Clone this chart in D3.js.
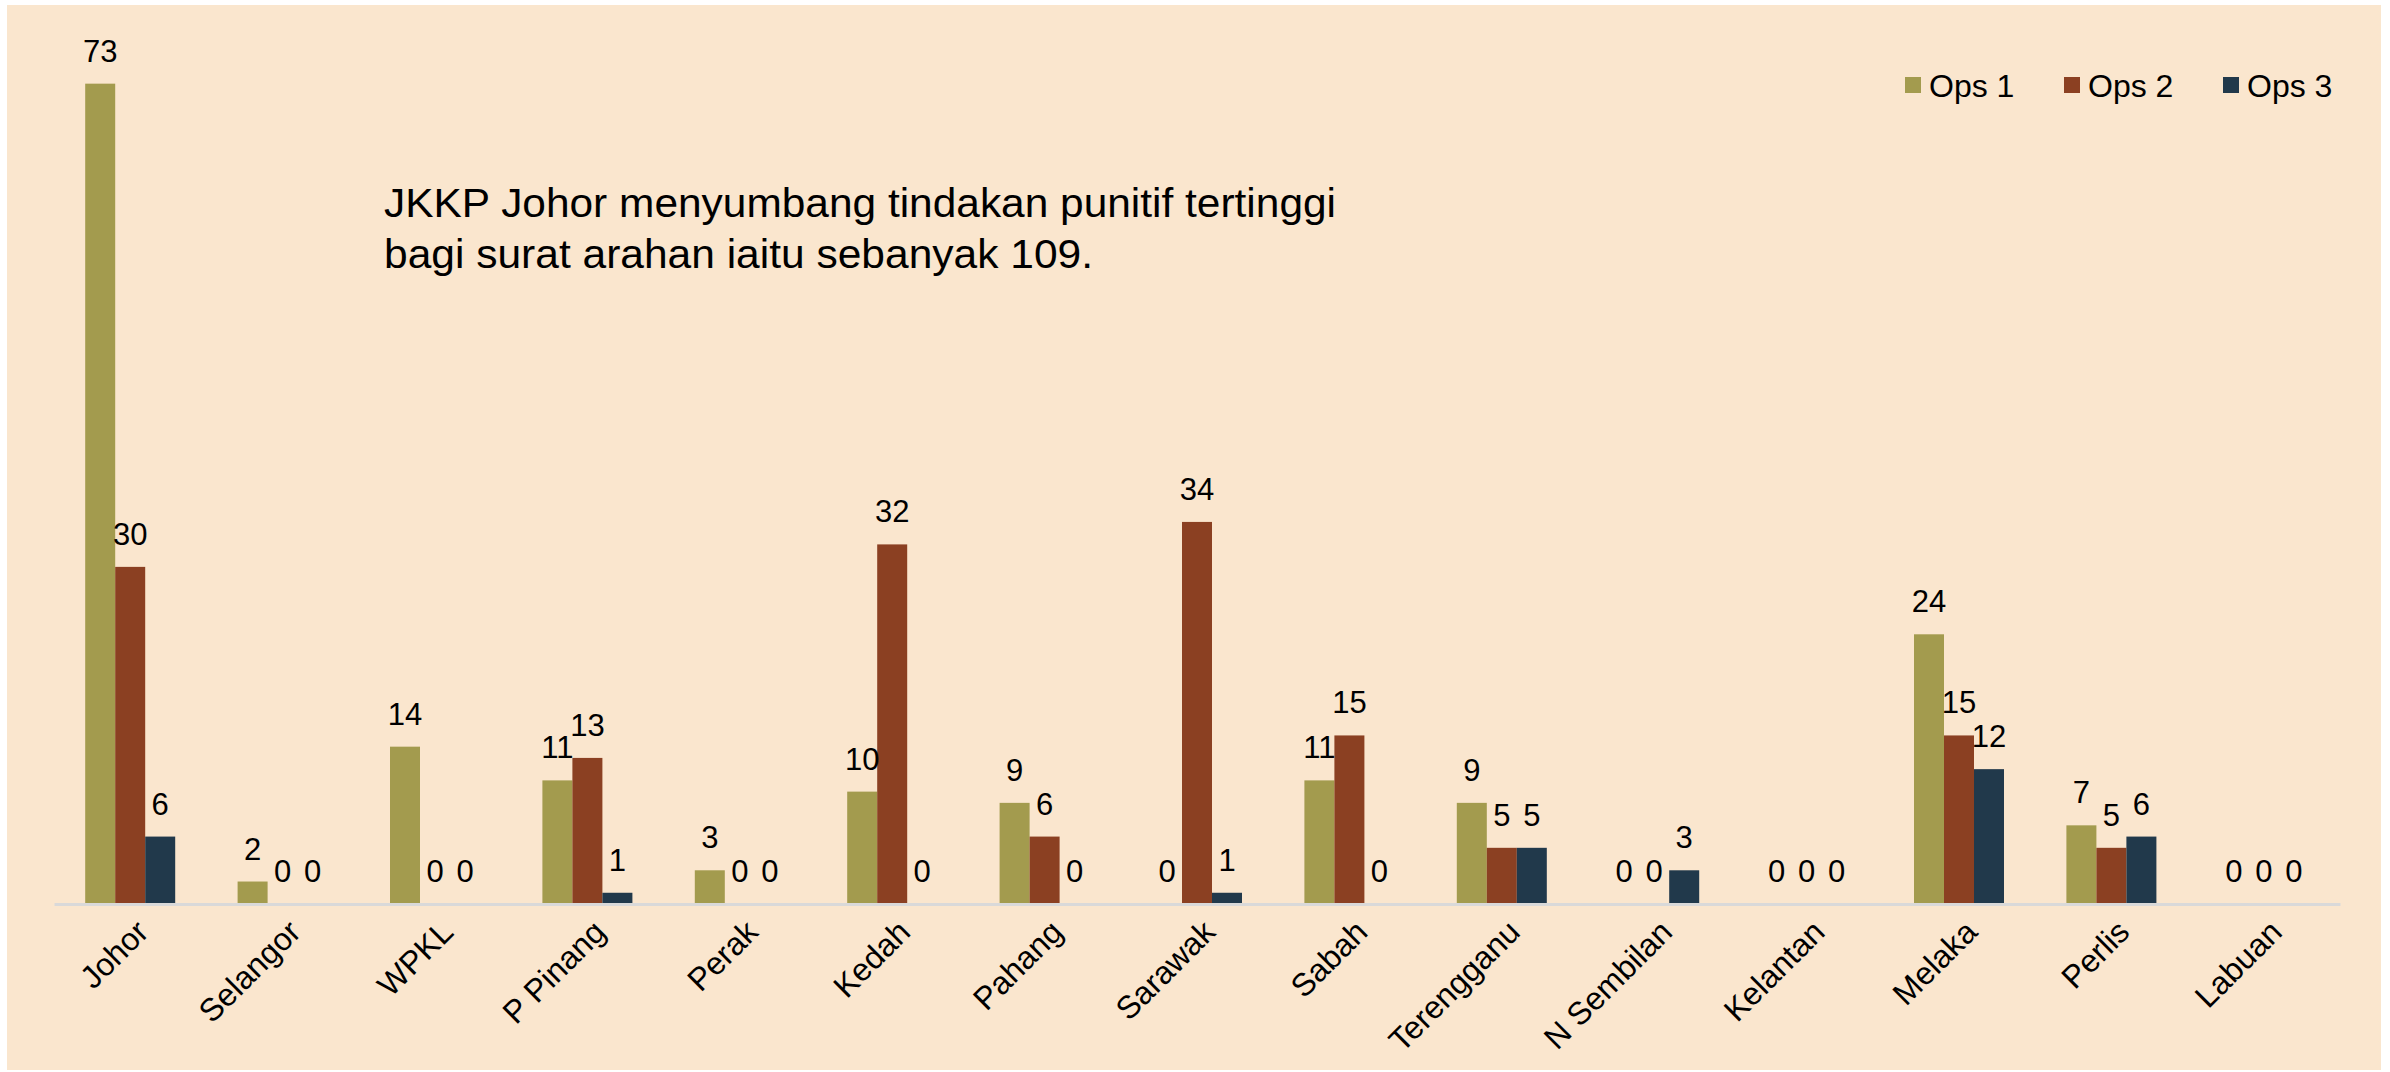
<!DOCTYPE html>
<html>
<head>
<meta charset="utf-8">
<script src="https://cdn.jsdelivr.net/npm/d3@7"></script>
<style>
  html, body { margin: 0; padding: 0; background: #ffffff; }
  svg { display: block; }
  text { font-family: "Liberation Sans", Arial, sans-serif; fill: #000; }
</style>
</head>
<body>
<svg id="chart" width="2390" height="1072"></svg>
<script>
const categories = ["Johor", "Selangor", "WPKL", "P Pinang", "Perak", "Kedah", "Pahang", "Sarawak", "Sabah", "Terengganu", "N Sembilan", "Kelantan", "Melaka", "Perlis", "Labuan"];
const seriesNames = ["Ops 1", "Ops 2", "Ops 3"];
const ops1 = [73, 2, 14, 11, 3, 10, 9, 0, 11, 9, 0, 0, 24, 7, 0];
const ops2 = [30, 0, 0, 13, 0, 32, 6, 34, 15, 5, 0, 0, 15, 5, 0];
const ops3 = [6, 0, 0, 1, 0, 0, 0, 1, 0, 5, 3, 0, 12, 6, 0];
const seriesColors = ["#A39B4E", "#8B4022", "#21394B"];
const annotationLines = ["JKKP Johor menyumbang tindakan punitif tertinggi", "bagi surat arahan iaitu sebanyak 109."];
const yMax = 80;

const seriesValues = [ops1, ops2, ops3];
const svg = d3.select("#chart");

// background panel
svg.append("rect").attr("x", 7).attr("y", 5).attr("width", 2374).attr("height", 1065).attr("fill", "#FAE6CE");

const x0 = d3.scaleBand().domain(categories).range([54, 2340]).padding(0);
const x1 = d3.scaleBand().domain(seriesNames).range([0, x0.bandwidth()]).paddingInner(0).paddingOuter(1.04);
const y = d3.scaleLinear().domain([0, yMax]).range([904, 5]);

const data = [];
categories.forEach((c, i) => {
  seriesNames.forEach((s, j) => {
    data.push({ cat: c, series: s, value: seriesValues[j][i], color: seriesColors[j] });
  });
});

// bars
svg.append("g").selectAll("rect").data(data.filter(d => d.value > 0)).join("rect")
  .attr("x", d => x0(d.cat) + x1(d.series))
  .attr("y", d => y(d.value))
  .attr("width", x1.bandwidth())
  .attr("height", d => y(0) - y(d.value))
  .attr("fill", d => d.color);

// axis line
const axisG = svg.append("g").attr("transform", `translate(0,${y(0)})`)
  .call(d3.axisBottom(x0).tickSize(0).tickFormat(""));
axisG.select(".domain").attr("stroke", "#D9D9D9").attr("stroke-width", 3);

// category labels
svg.append("g").selectAll("text").data(categories).join("text")
  .attr("transform", d => `translate(${x0(d) + x0.bandwidth() / 2 + 20},${y(0) + 30}) rotate(-45)`)
  .attr("text-anchor", "end")
  .attr("font-size", 32)
  .text(d => d);

// data labels
svg.append("g").selectAll("text").data(data).join("text")
  .attr("x", d => x0(d.cat) + x1(d.series) + x1.bandwidth() / 2)
  .attr("y", d => y(d.value) - 22)
  .attr("text-anchor", "middle")
  .attr("font-size", 31)
  .text(d => d.value);

// legend
const legend = svg.append("g").selectAll("g").data(seriesNames).join("g")
  .attr("transform", (d, i) => `translate(${1905 + i * 159},77)`);
legend.append("rect").attr("width", 16).attr("height", 16).attr("fill", (d, i) => seriesColors[i]);
legend.append("text").attr("x", 24).attr("y", 20).attr("font-size", 32).text(d => d);

// annotation
const annoWidths = [952, 709];
svg.append("g").selectAll("text").data(annotationLines).join("text")
  .attr("x", 384)
  .attr("y", (d, i) => 217 + i * 51)
  .attr("font-size", 40)
  .attr("textLength", (d, i) => annoWidths[i])
  .attr("lengthAdjust", "spacingAndGlyphs")
  .text(d => d);
</script>
</body>
</html>
